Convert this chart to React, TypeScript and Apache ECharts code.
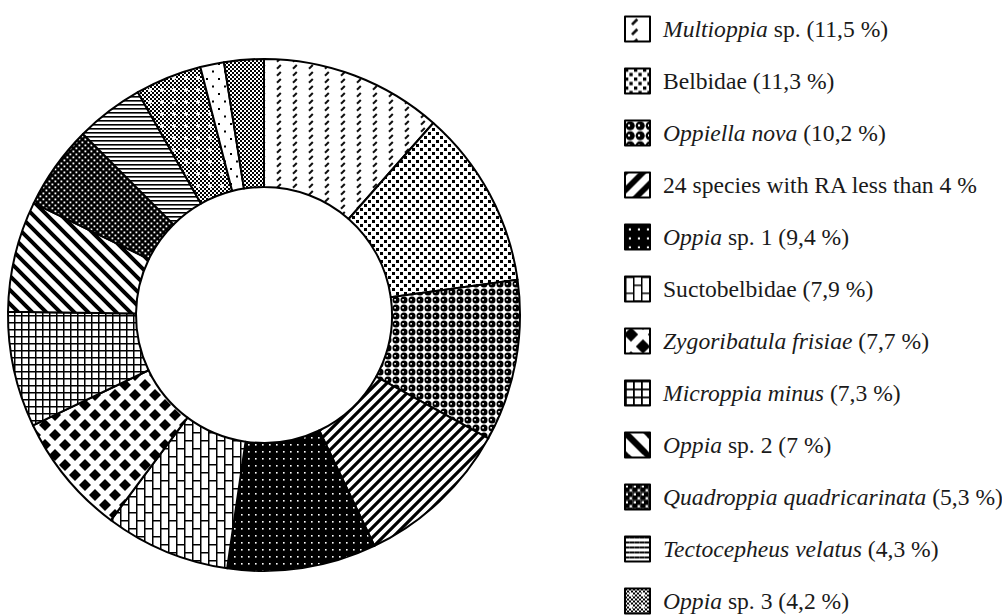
import React, { useEffect, useRef } from "react";
import * as echarts from "echarts";

// ---- data ----
const italicParts = [
  "Multioppia", "", "Oppiella nova", "", "Oppia", "", "Zygoribatula frisiae",
  "Microppia minus", "Oppia", "Quadroppia quadricarinata", "Tectocepheus velatus", "Oppia",
  "", "",
];
const plainParts = [
  " sp. (11,5 %)", "Belbidae (11,3 %)", " (10,2 %)", "24 species with RA less than 4 %",
  " sp. 1 (9,4 %)", "Suctobelbidae (7,9 %)", " (7,7 %)", " (7,3 %)", " sp. 2 (7 %)",
  " (5,3 %)", " (4,3 %)", " sp. 3 (4,2 %)",
  "unlabelled taxon A", "unlabelled taxon B",
];
const shares = [11.5, 11.3, 10.2, 9.9, 9.4, 7.9, 7.7, 7.3, 7, 5.3, 4.3, 4.2, 1.5, 2.5];
const legendCount = 12;

const SERIF = "'Liberation Serif', 'Times New Roman', 'DejaVu Serif', serif";

type Draw = (c: CanvasRenderingContext2D, w: number, h: number) => void;

function tile(w: number, h: number, draw: Draw, s = 1) {
  const cv = document.createElement("canvas");
  cv.width = Math.round(w * s);
  cv.height = Math.round(h * s);
  const c = cv.getContext("2d")!;
  c.scale(s, s);
  c.fillStyle = "#fff";
  c.fillRect(0, 0, w, h);
  c.fillStyle = "#000";
  c.strokeStyle = "#000";
  draw(c, w, h);
  return { image: cv, repeat: "repeat", imageWidth: cv.width, imageHeight: cv.height } as any;
}

function stripes(c: CanvasRenderingContext2D, s: number, lw: number, forward: boolean) {
  c.lineWidth = lw;
  c.beginPath();
  for (let k = -1; k <= 1; k++) {
    if (forward) {
      c.moveTo(k * s - 2, s + 2);
      c.lineTo(k * s + s + 2, -2);
    } else {
      c.moveTo(k * s - 2, -2);
      c.lineTo(k * s + s + 2, s + 2);
    }
  }
  c.stroke();
}

const drawers: [number, number, Draw][] = [
  // Multioppia: columns of short slanted dashes
  [16, 7, (c) => {
    c.lineWidth = 2;
    c.strokeStyle = "#111";
    c.beginPath();
    c.moveTo(5, 5.8);
    c.lineTo(8.8, 2);
    c.stroke();
  }],
  // Belbidae: staggered square dots
  [8, 8, (c) => {
    c.fillRect(0, 0, 3, 3);
    c.fillRect(4, 4, 3, 3);
  }],
  // Oppiella nova: grid of black circles with a highlight
  [8, 8, (c) => {
    c.beginPath();
    c.arc(4, 4, 3.5, 0, Math.PI * 2);
    c.fill();
    c.fillStyle = "#fff";
    c.fillRect(2.3, 3, 1.6, 1.6);
  }],
  // 24 species: "/" stripes
  [10, 10, (c) => stripes(c, 10, 3.2, true)],
  // Oppia sp. 1: black with white dots
  [7, 7, (c) => {
    c.fillRect(0, 0, 7, 7);
    c.fillStyle = "#fff";
    c.fillRect(3, 3, 1.6, 1.6);
  }],
  // Suctobelbidae: vertical bricks
  [16, 16, (c) => {
    c.fillRect(0, 0, 1.5, 16);
    c.fillRect(8, 0, 1.5, 16);
    c.fillRect(0, 0, 8, 1.5);
    c.fillRect(8, 8, 8, 1.5);
  }],
  // Zygoribatula frisiae: diamonds
  [20, 20, (c) => {
    const dia = (x: number, y: number, r: number) => {
      c.beginPath();
      c.moveTo(x, y - r);
      c.lineTo(x + r, y);
      c.lineTo(x, y + r);
      c.lineTo(x - r, y);
      c.closePath();
      c.fill();
    };
    const r = 6;
    dia(5, 5, r);
    dia(15, 15, r);
    dia(15, -5, r);
    dia(-5, 15, r);
    dia(25, 5, r);
    dia(5, 25, r);
  }],
  // Microppia minus: grid
  [7, 7, (c) => {
    c.fillRect(0, 0, 7, 1.5);
    c.fillRect(0, 0, 1.5, 7);
  }],
  // Oppia sp. 2: "\" stripes, heavier
  [14, 14, (c) => stripes(c, 14, 4, false)],
  // Quadroppia: black with white staggered dots
  [6, 6, (c) => {
    c.fillRect(0, 0, 6, 6);
    c.fillStyle = "#fff";
    c.fillRect(0.5, 0.5, 1.8, 1.8);
    c.fillRect(3.5, 3.5, 1.8, 1.8);
  }],
  // Tectocepheus: horizontal lines
  [4, 4, (c) => {
    c.fillRect(0, 0, 4, 1.6);
  }],
  // Oppia sp. 3: gray checker with white crosses
  [12, 12, (c) => {
    for (let i = 0; i < 6; i++)
      for (let j = 0; j < 6; j++) if ((i + j) % 2 === 0) c.fillRect(i * 2, j * 2, 2, 2);
    c.fillStyle = "#fff";
    c.fillRect(4, 5.2, 4, 1.6);
    c.fillRect(5.2, 4, 1.6, 4);
  }],
  // sparse dots on white
  [12, 15, (c) => {
    c.fillRect(2, 3, 2, 2);
    c.fillRect(8, 10.5, 2, 2);
  }],
  // fine gray checker
  [4, 4, (c) => {
    c.fillRect(0, 0, 2, 2);
    c.fillRect(2, 2, 2, 2);
  }],
];

// scale of the pattern inside the legend swatches
const legendScale = [1.4, 1.1, 1.3, 1.8, 1.3, 1.0, 1.2, 1.2, 1.6, 1.3, 1.2, 1.0, 1, 1];

export default function App() {
  const ref = useRef<HTMLDivElement>(null);
  useEffect(() => {
    const chart = echarts.init(ref.current!, undefined, { renderer: "svg" });
    const patterns = drawers.map(([w, h, d]) => tile(w, h, d));
    const bigPatterns = drawers.map(([w, h, d], i) => tile(w, h, d, legendScale[i]));
    const names = shares.map((_, i) => italicParts[i] + plainParts[i]);
    const data = shares.map((v, i) => ({
      name: names[i],
      value: v,
      itemStyle: { color: patterns[i] },
    }));
    const txt = { fontFamily: SERIF, fontSize: 23.6, lineHeight: 25, color: "#1a1a1a" };
    chart.setOption({
      animation: false,
      backgroundColor: "#fff",
      textStyle: { fontFamily: SERIF },
      legend: {
        orient: "vertical",
        left: 624,
        top: 15.5,
        padding: 0,
        itemWidth: 25,
        itemHeight: 25,
        itemGap: 25,
        icon: "rect",
        selectedMode: false,
        data: names.slice(0, legendCount).map((n, i) => ({
          name: n,
          itemStyle: { color: bigPatterns[i], borderColor: "#000", borderWidth: 2 },
        })),
        itemStyle: { borderColor: "#000", borderWidth: 2 },
        textStyle: {
          ...txt,
          rich: {
            g: { width: 8 },
            i: { ...txt, fontStyle: "italic" },
            n: { ...txt },
          },
        },
        formatter: (name: string) => {
          const idx = names.indexOf(name);
          const it = italicParts[idx];
          const pl = plainParts[idx];
          return "{g|}" + (it ? "{i|" + it + "}" : "") + "{n|" + pl + "}";
        },
      },
      series: [
        {
          type: "pie",
          center: [264, 315],
          radius: [128, 256],
          startAngle: 90,
          clockwise: true,
          silent: true,
          label: { show: false },
          labelLine: { show: false },
          emphasis: { disabled: true },
          itemStyle: { borderColor: "#000", borderWidth: 2 },
          data,
        },
      ],
    });
    return () => chart.dispose();
  }, []);
  return (
    <div
      style={{
        position: "fixed",
        left: 0,
        top: 0,
        width: 1002,
        height: 616,
        overflow: "hidden",
        background: "#fff",
      }}
    >
      <div ref={ref} style={{ width: 1002, height: 616 }} />
    </div>
  );
}
